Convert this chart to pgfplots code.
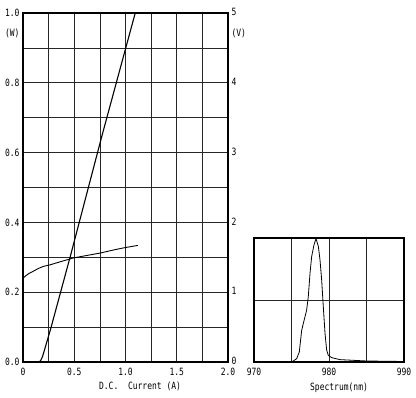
\documentclass[border=0pt]{standalone}
\usepackage{pgfplots}
\pgfplotsset{compat=1.18}
\usepackage{fontspec}
\setmainfont{DejaVu Sans Mono}[FakeStretch=0.8]
\newcommand{\tf}{\fontsize{10}{11}\selectfont}
\begin{document}
\begin{tikzpicture}
\useasboundingbox (0pt,0pt) rectangle (416pt,398pt);
\pgfplotsset{
  every tick label/.append style={font=\tf},
  tick style={draw=none},
}
% main axis (power, W)
\begin{axis}[
  at={(23pt,36pt)}, anchor=south west, scale only axis,
  width=205pt, height=349pt,
  xmin=0, xmax=2, ymin=0, ymax=1,
  xtick={0,0.5,1,1.5,2}, xticklabels={0,0.5,1.0,1.5,2.0},
  xticklabel style={yshift=-3pt},
  minor xtick={0.25,0.75,1.25,1.75},
  ytick={0,0.2,0.4,0.6,0.8,1.0}, yticklabels={0.0,0.2,0.4,0.6,0.8,1.0},
  minor ytick={0.1,0.3,0.5,0.7,0.9},
  grid=both,
  major grid style={black!85, line width=0.75pt},
  minor grid style={black!85, line width=0.75pt},
  axis line style={line width=1.3pt},
  clip=false,
]
\addplot[black, line width=1.1pt] coordinates {
 (0,0) (0.15,0) (0.17,0.003) (0.19,0.015) (0.21,0.035) (0.24,0.065) (0.27,0.095)
 (0.47,0.312) (0.77,0.648) (1.095,1.0)
};
\node[anchor=east, font=\tf] at (rel axis cs:0,0.943) {(W)};
\node[font=\tf] at ([yshift=-24pt]rel axis cs:0.571,0) {D.C.\ \ Current\ (A)};
\end{axis}
% overlay axis (voltage, V)
\begin{axis}[
  at={(23pt,36pt)}, anchor=south west, scale only axis,
  width=205pt, height=349pt,
  xmin=0, xmax=2, ymin=0, ymax=5,
  axis x line=none, axis y line*=right,
  ytick={0,1,2,3,4,5}, yticklabels={0,1,2,3,4,5},
  yticklabel style={yshift=1pt},
  axis line style={line width=1.3pt},
  clip=false,
]
\addplot[black, line width=0.9pt] coordinates {
 (0,1.20) (0.03,1.24) (0.06,1.27) (0.1,1.30) (0.15,1.34) (0.2,1.37) (0.26,1.39)
 (0.35,1.43) (0.49,1.49) (0.6,1.52) (0.75,1.56) (0.9,1.61) (1.0,1.64) (1.12,1.67)
};
\node[anchor=west, font=\tf] at (rel axis cs:1,0.943) {(V)};
\end{axis}
% spectrum axis
\begin{axis}[
  at={(254pt,36pt)}, anchor=south west, scale only axis,
  width=150pt, height=124pt,
  xmin=970, xmax=990, ymin=0, ymax=1,
  xtick={970,980,990}, xticklabels={970,980,990},
  xticklabel style={yshift=-3pt},
  minor xtick={975,985},
  ytick={0.5}, yticklabels={},
  grid=both,
  major grid style={black!85, line width=0.75pt},
  minor grid style={black!85, line width=0.75pt},
  axis line style={line width=1.3pt},
  clip=false,
]
\addplot[black, line width=0.8pt] coordinates {
 (975.0,0.003) (975.24,0.008) (975.69,0.027) (976.04,0.081) (976.36,0.257)
 (976.8,0.365) (977.02,0.419) (977.24,0.527) (977.47,0.716) (977.69,0.851)
 (978.0,0.945) (978.27,0.995) (978.58,0.932) (978.8,0.824) (979.02,0.662)
 (979.24,0.446) (979.47,0.23) (979.69,0.095) (979.91,0.054) (980.36,0.035)
 (981.47,0.019) (985.02,0.008) (990,0.004)
};
\node[font=\tf] at ([yshift=-26pt]rel axis cs:0.567,0) {Spectrum(nm)};
\end{axis}
\end{tikzpicture}
\end{document}
